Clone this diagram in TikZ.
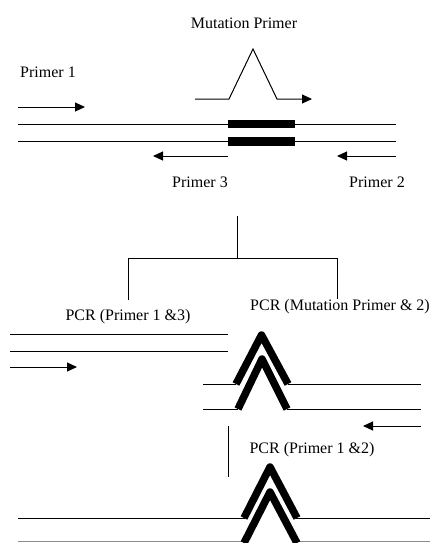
\documentclass[tikz,border=0pt]{standalone}
\usepackage{fontspec}
\setmainfont{Liberation Serif}
\usetikzlibrary{arrows.meta}
\begin{document}
\begin{tikzpicture}[x=1pt,y=-1pt,
  strand/.style={line width=1pt},
  primer/.style={line width=1pt,-{Triangle[length=10pt,width=9pt]}},
  bar/.style={fill=black},
  chev/.style={line width=7.5pt,line join=round,line cap=butt},
  lbl/.style={font=\fontsize{16}{19}\selectfont,inner sep=0pt},
  tree/.style={line width=1pt}]
\useasboundingbox (0,0) rectangle (436,543);
% ---- top section
\node[lbl] (mp) at (244,23) {Mutation Primer};
\node[lbl,anchor=west] (p1) at (20,72) {Primer 1};
\node[lbl] (p3) at (200,182) {Primer 3};
\node[lbl] (p2) at (377,182) {Primer 2};
\coordinate (p1s) at (18,107); \coordinate (p1e) at (85,107);
\draw[primer] (p1s) -- (p1e);
\coordinate (ms) at (195,99); \coordinate (m1) at (229,99); \coordinate (mt) at (253,49);
\coordinate (m2) at (277,99); \coordinate (me) at (312,99);
\draw[primer] (ms) -- (m1) -- (mt) -- (m2) -- (me);
\coordinate (t1) at (18,124); \coordinate (t2) at (396,124);
\coordinate (b1) at (18,141); \coordinate (b2) at (396,141);
\draw[strand] (t1) -- (t2);
\draw[strand] (b1) -- (b2);
\fill[bar] (228,120) rectangle (295,128);
\fill[bar] (228,137) rectangle (295,146);
\coordinate (p3s) at (228,156); \coordinate (p3e) at (153,156);
\draw[primer] (p3s) -- (p3e);
\coordinate (p2s) at (396,156); \coordinate (p2e) at (337,156);
\draw[primer] (p2s) -- (p2e);
% ---- tree
\coordinate (r0) at (237,216); \coordinate (r1) at (237,258);
\coordinate (l1) at (128,258); \coordinate (l2) at (128,300);
\coordinate (q1) at (337,258); \coordinate (q2) at (337,299);
\draw[tree] (r0) -- (r1);
\draw[tree] (l2) -- (l1) -- (q1) -- (q2);
\node[lbl] (pcr13) at (128,317) {PCR (Primer 1 \&3)};
\node[lbl] (pcrm2) at (340,307) {PCR (Mutation Primer \& 2)};
% ---- left product
\coordinate (la1) at (10,334); \coordinate (la2) at (228,334);
\coordinate (lb1) at (10,351); \coordinate (lb2) at (228,351);
\draw[strand] (la1) -- (la2);
\draw[strand] (lb1) -- (lb2);
\coordinate (lp1) at (10,367); \coordinate (lp2) at (77,367);
\draw[primer] (lp1) -- (lp2);
% ---- right product
\coordinate (ra1) at (203,384); \coordinate (ra2) at (236,384);
\coordinate (ra3) at (288,384); \coordinate (ra4) at (421,384);
\coordinate (rb1) at (203,409); \coordinate (rb2) at (238,409);
\coordinate (rb3) at (287,409); \coordinate (rb4) at (421,409);
\draw[strand] (ra1) -- (ra2); \draw[strand] (ra3) -- (ra4);
\draw[strand] (rb1) -- (rb2); \draw[strand] (rb3) -- (rb4);
\draw[chev] (236,384) -- (261.5,335) -- (288,384);
\draw[chev] (238,409) -- (262,359) -- (287,409);
\coordinate (rp1) at (421,426); \coordinate (rp2) at (363,426);
\draw[primer] (rp1) -- (rp2);
% ---- final
\coordinate (v1) at (228,426); \coordinate (v2) at (228,477);
\draw[tree] (v1) -- (v2);
\node[lbl] (pcr12) at (312,450) {PCR (Primer 1 \&2)};
\coordinate (fa1) at (18,518); \coordinate (fa2) at (245,518);
\coordinate (fa3) at (296,518); \coordinate (fa4) at (430,518);
\draw[strand] (fa1) -- (fa2); \draw[strand] (fa3) -- (fa4);
\coordinate (fb1) at (18,541.5); \coordinate (fb2) at (245,541.5);
\coordinate (fb3) at (296,541.5); \coordinate (fb4) at (430,541.5);
\draw[strand,black!45] (fb1) -- (fb2); \draw[strand,black!45] (fb3) -- (fb4);
\draw[chev] (244,518) -- (270,467) -- (297,518);
\draw[chev] (244,543) -- (270,492) -- (297,543);
\end{tikzpicture}
\end{document}
